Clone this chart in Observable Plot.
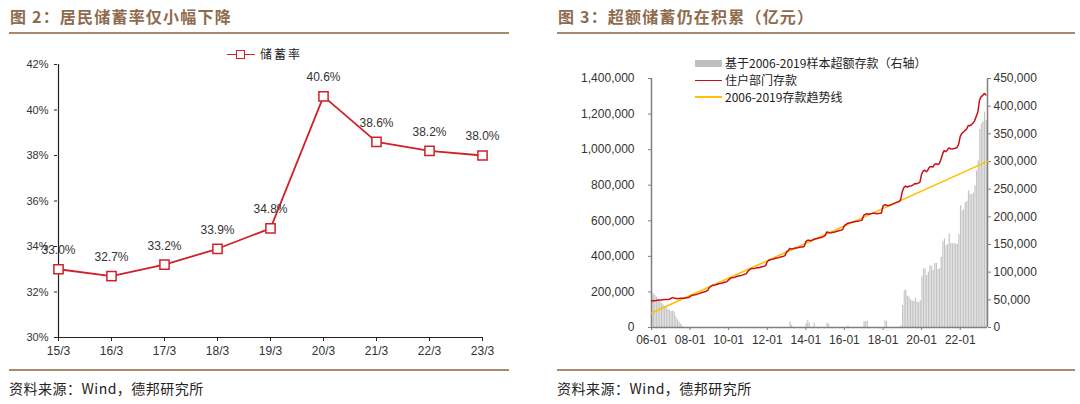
<!DOCTYPE html>
<html>
<head>
<meta charset="utf-8">
<script src="https://cdn.jsdelivr.net/npm/d3@7"></script>
<script src="https://cdn.jsdelivr.net/npm/@observablehq/plot@0.6"></script>
<style>
  body { margin: 0; background: #fff; }
  #root { position: relative; width: 1080px; height: 404px; overflow: hidden; background: #fff;
          font-family: "Liberation Sans", "Noto Sans CJK SC", sans-serif; }
  .title { position: absolute; top: 7px; line-height: 19px; font-family: "Noto Sans CJK SC", sans-serif;
           font-weight: bold; font-size: 16px; color: #8E6B4E; letter-spacing: 1.2px; white-space: nowrap; }
  .rule { position: absolute; height: 2px; background: #A88B6E; }
  .src { position: absolute; top: 379px; line-height: 18px; font-size: 14px; color: #222;
         font-family: "Noto Sans CJK SC", sans-serif; white-space: nowrap; letter-spacing: 0.5px; }
  .chart { position: absolute; top: 40px; }
  .lg { position: absolute; font-family: "Noto Sans CJK SC", sans-serif; font-size: 12px; line-height: 14px;
        color: #222; white-space: nowrap; }
  .sw { position: absolute; }
</style>
</head>
<body>
<div id="root">
  <div class="title" style="left:10px">图 2：居民储蓄率仅小幅下降</div>
  <div class="title" style="left:558px">图 3：超额储蓄仍在积累（亿元）</div>
  <div class="rule" style="left:9px;width:500px;top:32px"></div>
  <div class="rule" style="left:557px;width:518px;top:32px"></div>
  <div class="rule" style="left:9px;width:500px;top:369px"></div>
  <div class="rule" style="left:557px;width:518px;top:369px"></div>
  <div class="src" style="left:9px">资料来源：Wind，德邦研究所</div>
  <div class="src" style="left:557px">资料来源：Wind，德邦研究所</div>
  <div id="left" class="chart" style="left:0px"></div>
  <div id="right" class="chart" style="left:540px"></div>

  <!-- left legend -->
  <div class="sw" style="left:227px;top:53.5px;width:28px;height:1.8px;background:#D0202A"></div>
  <div class="sw" style="left:236px;top:50px;width:6.5px;height:6.5px;border:1.5px solid #D0202A;background:#fff"></div>
  <div class="lg" style="left:260px;top:47px;letter-spacing:2px">储蓄率</div>

  <!-- right legend -->
  <div class="sw" style="left:695px;top:59.5px;width:27px;height:7px;background:#BFBFBF"></div>
  <div class="lg" style="left:725px;top:56px">基于2006-2019样本超额存款（右轴）</div>
  <div class="sw" style="left:695px;top:79.5px;width:27px;height:1.6px;background:#C8101A"></div>
  <div class="lg" style="left:725px;top:73px">住户部门存款</div>
  <div class="sw" style="left:695px;top:96px;width:27px;height:1.6px;background:#FFC000"></div>
  <div class="lg" style="left:725px;top:90px">2006-2019存款趋势线</div>
</div>

<script>
// ---------------- Left chart data ----------------
const periods = ["15/3", "16/3", "17/3", "18/3", "19/3", "20/3", "21/3", "22/3", "23/3"];
const savingsRate = [33.0, 32.7, 33.2, 33.9, 34.8, 40.6, 38.6, 38.2, 38.0];
const rateTicks = [30, 32, 34, 36, 38, 40, 42];

// ---------------- Right chart data (亿元, monthly from 2006-01 to 2023-05) ----------------
const firstMonth = "2006-01-01";
const householdDeposits = [
  // 2006
  149000,150000,151000,152000,153000,154000,155000,156000,157000,157000,158000,159000,
  // 2007
  163000,168000,166000,164000,162000,163000,164000,164000,165000,166000,167000,168000,
  // 2008
  174000,180000,182000,184000,186000,189000,192000,195000,198000,201000,204000,210000,
  // 2009
  225000,232000,237000,238000,240000,243000,246000,248000,250000,253000,256000,258000,
  // 2010
  268000,276000,280000,281000,283000,287000,289000,291000,293000,296000,299000,303000,
  // 2011
  316000,326000,331000,332000,331000,335000,337000,336000,340000,342000,344000,348000,
  // 2012
  370000,378000,381000,383000,385000,389000,391000,392000,396000,398000,400000,404000,
  // 2013
  425000,432000,445000,441000,443000,446000,447000,448000,451000,452000,453000,456000,
  // 2014
  483000,490000,490000,488000,490000,497000,498000,500000,503000,505000,507000,511000,
  // 2015
  518000,537000,535000,532000,533000,535000,537000,540000,543000,545000,547000,552000,
  // 2016
  573000,580000,586000,588000,590000,592000,594000,596000,598000,599000,601000,604000,
  // 2017
  631000,636000,640000,637000,640000,641000,643000,642000,640000,641000,642000,644000,
  // 2018
  684000,690000,689000,684000,687000,690000,694000,698000,702000,705000,708000,720000,
  // 2019
  765000,788000,795000,790000,793000,795000,798000,803000,810000,808000,812000,818000,
  // 2020
  862000,880000,884000,876000,887000,903000,905000,902000,917000,921000,916000,922000,
  // 2021
  946000,975000,995000,988000,998000,1010000,1005000,1003000,1006000,1008000,1012000,1030000,
  // 2022
  1075000,1092000,1098000,1108000,1115000,1136000,1135000,1140000,1150000,1162000,1188000,1212000,
  // 2023
  1278000,1298000,1305000,1316000,1308000
];
const excessDeposits = [
  // 2006
  62000,61000,58000,55000,51000,48000,44000,41000,38000,36000,33000,31000,
  // 2007
  29000,30000,28000,19000,14000,10000,6000,2000,0,0,0,0,
  // 2008
  0,0,0,0,0,0,0,0,0,0,0,0,
  // 2009
  0,0,0,0,0,0,0,0,0,0,0,0,
  // 2010
  0,0,0,0,0,0,0,0,0,0,0,0,
  // 2011
  0,0,0,0,0,0,0,0,0,0,0,0,
  // 2012
  0,0,0,0,0,0,0,0,0,0,0,0,
  // 2013
  0,0,10000,4000,0,0,0,0,0,0,0,0,
  // 2014
  7000,13000,8000,0,0,8000,0,0,0,0,0,0,
  // 2015
  0,8000,6000,0,0,0,0,0,0,0,0,0,
  // 2016
  0,0,3000,0,0,0,0,0,0,0,0,0,
  // 2017
  11000,10000,12000,0,0,0,0,0,0,0,0,0,
  // 2018
  0,12000,11000,0,0,0,0,0,0,0,0,3000,
  // 2019
  40000,66000,68000,57000,55000,50000,48000,47000,53000,46000,45000,48000,
  // 2020
  92000,106000,106000,94000,100000,112000,110000,103000,116000,116000,105000,106000,
  // 2021
  127000,155000,160000,148000,150000,169000,152000,151000,152000,151000,150000,168000,
  // 2022
  220000,211000,213000,226000,228000,247000,241000,240000,243000,256000,283000,301000,
  // 2023
  358000,368000,372000,389000,374000
];
const trendDates = ["2006-01-01", "2023-06-01"];
const trendValues = [82000, 934000];
const leftTicks = [0, 200000, 400000, 600000, 800000, 1000000, 1200000, 1400000];
const rightTicks = [0, 50000, 100000, 150000, 200000, 250000, 300000, 350000, 400000, 450000];
const yearTicks = ["2006-01-01","2008-01-01","2010-01-01","2012-01-01","2014-01-01","2016-01-01","2018-01-01","2020-01-01","2022-01-01"];
const xDomain = ["2006-01-01", "2023-06-01"];

// ---------------- Left chart ----------------
const rateRows = periods.map((p, i) => ({p, v: savingsRate[i]}));
const red = "#D0202A";
const leftPlot = Plot.plot({
  width: 540, height: 330,
  marginLeft: 57, marginRight: 57, marginTop: 24, marginBottom: 33,
  style: {fontFamily: "Liberation Sans, Noto Sans CJK SC, sans-serif", fontSize: "12px", color: "#333", background: "transparent"},
  x: {type: "point", domain: periods, padding: 0},
  y: {domain: [30, 42]},
  marks: [
    Plot.axisY({ticks: rateTicks, tickFormat: d => d + "%", tickSize: 3, tickPadding: 6, label: null, stroke: "#222", fill: "#333", fontSize: 11}),
    Plot.axisX({tickSize: 4, tickPadding: 5, label: null, stroke: "#222", fill: "#333"}),
    Plot.ruleX([periods[0]], {stroke: "#222", strokeWidth: 1.2}),
    Plot.ruleY([30], {stroke: "#222", strokeWidth: 1.2}),
    Plot.line(rateRows, {x: "p", y: "v", stroke: red, strokeWidth: 1.8}),
    Plot.dot(rateRows, {x: "p", y: "v", symbol: "square", r: 5.2, fill: "white", stroke: red, strokeWidth: 1.5}),
    Plot.text(rateRows, {x: "p", y: "v", text: d => d.v.toFixed(1) + "%", dy: -19, fontSize: 12, fill: "#333"})
  ]
});
document.getElementById("left").appendChild(leftPlot);

// ---------------- Right chart ----------------
const start = new Date(firstMonth);
const rows = householdDeposits.map((v, i) => ({
  date: d3.utcMonth.offset(start, i),
  next: d3.utcMonth.offset(start, i + 1),
  dep: v,
  ex: excessDeposits[i]
}));
const trendRows = trendDates.map((d, i) => ({date: new Date(d), v: trendValues[i]}));
const k = 1400000 / 450000; // right-axis to left-axis factor
const axisGray = "#7F7F7F";
const fmt = d3.format(",");

const rightPlot = Plot.plot({
  width: 540, height: 330,
  marginLeft: 111, marginRight: 93, marginTop: 38, marginBottom: 43,
  style: {fontFamily: "Liberation Sans, Noto Sans CJK SC, sans-serif", fontSize: "12px", color: "#333", background: "transparent"},
  x: {type: "utc", domain: xDomain.map(d => new Date(d))},
  y: {domain: [0, 1400000]},
  marks: [
    Plot.rectY(rows, {x1: "date", x2: "next", y: d => d.ex * k, fill: "#C4C4C4", insetLeft: 0.2, insetRight: 0.2}),
    Plot.axisY({ticks: leftTicks, tickFormat: fmt, tickSize: 3, tickPadding: 14, label: null, stroke: axisGray, fill: "#333"}),
    Plot.axisY({anchor: "right", ticks: rightTicks.map(t => t * k), tickFormat: d => fmt(Math.round(d / k / 1000) * 1000), tickSize: 3, tickPadding: 3, label: null, stroke: axisGray, fill: "#333"}),
    Plot.axisX({ticks: yearTicks.map(d => new Date(d)), tickFormat: d3.utcFormat("%y-%m"), tickSize: 3, tickPadding: 5, label: null, stroke: axisGray, fill: "#333"}),
    Plot.ruleX(xDomain.map(d => new Date(d)), {stroke: axisGray, strokeWidth: 1.5}),
    Plot.ruleY([0], {stroke: axisGray, strokeWidth: 1.5}),
    Plot.line(trendRows, {x: "date", y: "v", stroke: "#FFC000", strokeWidth: 1.6}),
    Plot.line(rows, {x: "date", y: "dep", stroke: "#C8101A", strokeWidth: 1.5})
  ]
});
document.getElementById("right").appendChild(rightPlot);
</script>
</body>
</html>
